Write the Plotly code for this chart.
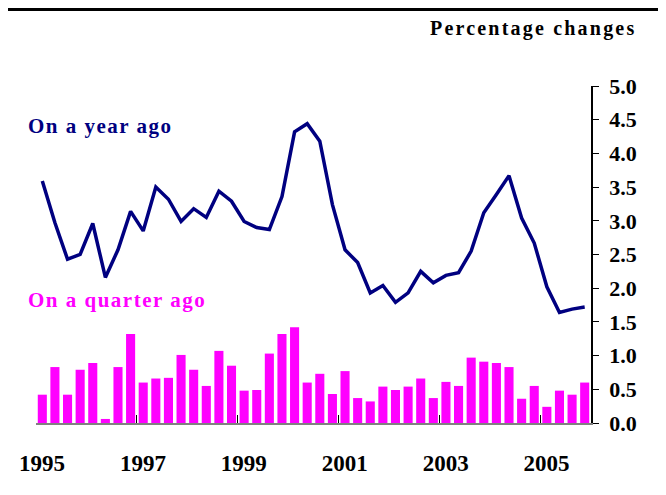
import plotly.graph_objects as go

# quarterly data, 1995Q1 - 2005Q4
start_year = 1995
n_quarters = 44

year_ago = [3.59, 2.97, 2.43, 2.50, 2.96, 2.16, 2.57, 3.14, 2.85, 3.50, 3.32, 2.99,
            3.18, 3.05, 3.44, 3.29, 2.99, 2.90, 2.87, 3.36, 4.32, 4.44, 4.18, 3.24,
            2.57, 2.38, 1.93, 2.04, 1.79, 1.93, 2.25, 2.08, 2.19, 2.23, 2.55, 3.12,
            3.39, 3.67, 3.04, 2.67, 2.02, 1.64, 1.69, 1.72]

quarter_ago = [0.42, 0.83, 0.42, 0.79, 0.89, 0.06, 0.83, 1.32, 0.60, 0.66, 0.67, 1.01,
               0.79, 0.55, 1.07, 0.85, 0.48, 0.49, 1.03, 1.32, 1.42, 0.60, 0.73, 0.43,
               0.77, 0.37, 0.32, 0.54, 0.49, 0.54, 0.66, 0.37, 0.61, 0.55, 0.97, 0.91,
               0.89, 0.83, 0.36, 0.55, 0.24, 0.48, 0.42, 0.60]

year_ticks = [1995, 1997, 1999, 2001, 2003, 2005]

# quarter midpoints on a continuous year axis
x = [start_year + (i + 0.5) / 4 for i in range(n_quarters)]

serif = "Liberation Serif, Times New Roman, serif"
navy = "#000080"
magenta = "#FF00FF"


def spaced(txt, px):
    return f"<span style='letter-spacing:{px}px'>{txt}</span>"


fig = go.Figure()
fig.add_trace(go.Bar(x=x, y=quarter_ago, marker_color=magenta, marker_line_width=0,
                     name="On a quarter ago"))
fig.add_trace(go.Scatter(x=x, y=year_ago, mode="lines", line=dict(color=navy, width=3.5),
                         name="On a year ago"))

# the page body adds an 8px margin, so the figure is 8px smaller than the window
fig.update_layout(
    width=658, height=487,
    margin=dict(l=28, r=75, t=78, b=72),
    plot_bgcolor="white", paper_bgcolor="white",
    showlegend=False, bargap=0.28,
    font=dict(family=serif, size=22, color="black", weight="bold"),
)
fig.update_xaxes(
    range=[1995, 2006], tickvals=year_ticks, ticktext=[str(y) for y in year_ticks],
    ticks="inside", ticklen=8, tickcolor="black", tickwidth=1,
    ticklabelshift=6, ticklabelstandoff=18,
    showline=True, linecolor="#808080", linewidth=2,
    showgrid=False, zeroline=False,
    tickfont=dict(family=serif, size=23, weight="bold"),
)
fig.update_yaxes(
    side="right", range=[0, 5], dtick=0.5, tickformat=".1f",
    ticks="outside", ticklen=6, tickcolor="black",
    ticklabelstandoff=6,
    showline=True, linecolor="black", linewidth=1.5,
    showgrid=False, zeroline=False,
    tickfont=dict(family=serif, size=22, weight="bold"),
)

fig.add_shape(type="line", xref="paper", yref="paper", x0=-0.1, x1=1.2, y0=1.2267, y1=1.2267,
              line=dict(color="black", width=3))
fig.add_annotation(text=spaced("Percentage changes", 2.2), xref="paper", yref="paper",
                   x=1.0847, y=1.172, xanchor="right", yanchor="middle",
                   showarrow=False, font=dict(family=serif, size=20, weight="bold"))
fig.add_annotation(text=spaced("On a year ago", 1.5), xref="paper", yref="y", x=0, y=4.4,
                   xshift=-10, xanchor="left", yanchor="middle", showarrow=False,
                   font=dict(family=serif, size=21, color=navy, weight="bold"))
fig.add_annotation(text=spaced("On a quarter ago", 1.5), xref="paper", yref="y", x=0, y=1.82,
                   xshift=-10, xanchor="left", yanchor="middle", showarrow=False,
                   font=dict(family=serif, size=21, color=magenta, weight="bold"))

fig.write_html("out.html")
